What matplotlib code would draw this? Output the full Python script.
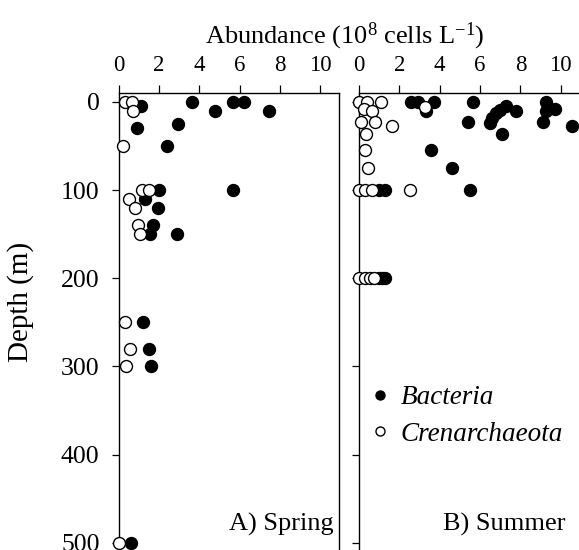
import matplotlib
matplotlib.use("Agg")
import matplotlib.pyplot as plt
from matplotlib.lines import Line2D

plt.rcParams['font.family'] = ['Liberation Serif', 'DejaVu Serif']
plt.rcParams['mathtext.fontset'] = 'custom'
plt.rcParams['mathtext.rm'] = 'Liberation Serif'
plt.rcParams['mathtext.it'] = 'Liberation Serif:italic'

# ---- data ----
spring_bac_x = [1.08, 3.65, 4.78, 5.69, 6.22, 7.45, 0.88, 2.92, 2.40, 2.0, 5.65,
                1.29, 1.94, 1.68, 1.54, 2.87, 1.21, 1.49, 1.59, 0.6]
spring_bac_d = [5, 0, 10, 0, 0, 10, 30, 25, 50, 100, 100,
                110, 120, 140, 150, 150, 250, 280, 300, 500]
spring_cren_x = [0.3, 0.65, 0.7, 0.18, 1.13, 1.48, 0.5, 0.81, 0.96, 1.04, 0.30, 0.55, 0.35, 0.0]
spring_cren_d = [0, 0, 10, 50, 100, 100, 110, 120, 140, 150, 250, 280, 300, 500]

summer_bac_x = [2.6, 2.9, 3.3, 3.7, 5.64, 9.25, 5.41, 6.47, 9.11, 10.54,
                6.6, 6.8, 7.0, 7.26, 7.8, 9.72, 9.25, 7.08, 3.55, 4.61,
                5.49, 0.98, 1.31, 1.0, 1.15, 1.3]
summer_bac_d = [0, 0, 10, 0, 0, 0, 23, 24, 23, 27,
                18, 13, 9, 5, 10, 8, 10, 37, 55, 75,
                100, 100, 100, 200, 200, 200]
summer_cren_x = [0.0, 0.4, 1.11, 0.23, 0.65, 3.25, 0.11, 0.78, 1.64, 0.35, 0.28, 0.43,
                 0.0, 0.31, 0.65, 2.55, 0.0, 0.31, 0.56, 0.73]
summer_cren_d = [0, 0, 0, 8, 10, 6, 23, 23, 27, 37, 55, 75,
                 100, 100, 100, 100, 200, 200, 200, 200]

x_ticks = [0, 2, 4, 6, 8, 10]
y_ticks = [0, 100, 200, 300, 400, 500]
panel_labels = ["A) Spring", "B) Summer"]
legend_labels = ["Bacteria", "Crenarchaeota"]

W, H = 579, 550
fig = plt.figure(figsize=(W / 100, H / 100), dpi=100)

top_px = 93
ax_h = (H - top_px) / H
axL = fig.add_axes([119 / W, 0, 220 / W, ax_h])
axR = fig.add_axes([359 / W, 0, 221 / W, ax_h])

ms = 8.6
for ax, bx, bd, cx, cd, lab, lx in [
        (axL, spring_bac_x, spring_bac_d, spring_cren_x, spring_cren_d, panel_labels[0], 0.975),
        (axR, summer_bac_x, summer_bac_d, summer_cren_x, summer_cren_d, panel_labels[1], 0.935)]:
    ax.plot(bx, bd, 'o', ms=ms, mfc='black', mec='black', mew=1.0, ls='none', clip_on=False, zorder=3)
    ax.plot(cx, cd, 'o', ms=ms, mfc='white', mec='black', mew=1.0, ls='none', clip_on=False, zorder=4)
    ax.set_xlim(0, 10.95)
    ax.set_ylim(508, -10)
    ax.xaxis.tick_top()
    ax.set_xticks(x_ticks)
    ax.set_yticks(y_ticks)
    ax.tick_params(axis='x', direction='out', length=6, width=0.9, labelsize=16.5, pad=6)
    ax.tick_params(axis='y', direction='out', length=5, width=0.9, labelsize=18.5, pad=9)
    for s in ax.spines.values():
        s.set_linewidth(1.0)
    ax.spines['bottom'].set_visible(False)
    ax.text(lx, 0.03, lab, transform=ax.transAxes, ha='right', va='bottom', fontsize=19)

axR.tick_params(axis='y', labelleft=False)
axR.spines['right'].set_visible(False)

axL.set_ylabel("Depth (m)", fontsize=21)
axL.yaxis.set_label_coords(-0.385, 0.543)

fig.text(345 / W, 1 - 36 / H, r"Abundance (10$^{8}$ cells L$^{-1}$)", ha='center', va='center', fontsize=19)

handles = [Line2D([], [], marker='o', ls='none', ms=6.5, mfc='black', mec='black'),
           Line2D([], [], marker='o', ls='none', ms=6.5, mfc='white', mec='black')]
leg = axR.legend(handles, legend_labels, loc='center left', bbox_to_anchor=(-0.015, 0.293),
                 frameon=False, fontsize=19.5, handletextpad=0.25, labelspacing=0.43,
                 handlelength=1.0, borderaxespad=0)
for t in leg.get_texts():
    t.set_fontstyle('italic')

fig.savefig("out.png", dpi=100)
